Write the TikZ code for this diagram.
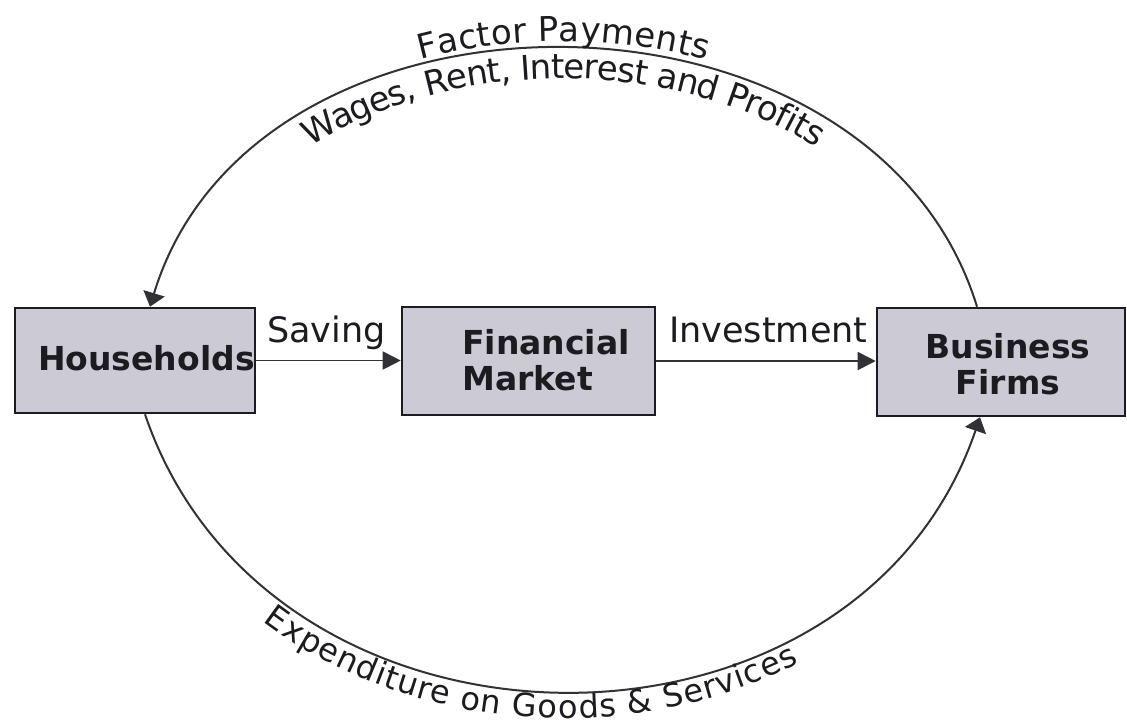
\documentclass[tikz,border=0pt]{standalone}
\usepackage{fontspec}
\setmainfont{DejaVu Sans}
\usetikzlibrary{arrows.meta,decorations.text}
\definecolor{boxfill}{RGB}{204,202,212}
\definecolor{ink}{RGB}{28,28,32}
\definecolor{wire}{RGB}{50,50,54}

\begin{document}
\begin{tikzpicture}[x=1pt,y=-1pt,
  sector/.style={draw=ink, line width=2.6pt, fill=boxfill, inner sep=0pt},
  boxtext/.style={font=\fontsize{33}{36}\selectfont\bfseries, text=ink, inner sep=0pt},
  flowlabel/.style={font=\fontsize{35}{35}\selectfont, text=ink, inner sep=0pt},
  flow/.style={draw=wire, line width=2pt, -{Triangle[length=14pt,width=22pt]}},
  link/.style={draw=wire, line width=1.8pt, -{Triangle[length=18pt,width=18pt]}}
]
\useasboundingbox (0,0) rectangle (1127,724);
\fill[white] (0,0) rectangle (1127,724);

% the three sectors
\node[sector, minimum width=240pt, minimum height=105pt] (hh) at (135,360.5) {};
\node[sector, minimum width=253pt, minimum height=108pt] (fm) at (528.5,361) {};
\node[sector, minimum width=248pt, minimum height=108pt] (bf) at (1001,362) {};

\node[boxtext, anchor=base west] (hhlabel) at (38,370) {Households};
\node[boxtext, anchor=north west, align=left] (fmlabel) at (462,329) {Financial\\Market};
\node[boxtext, anchor=north, align=center] (bflabel) at (1008,333) {Business\\Firms};

% saving and investment flows
\draw[link] (hh.east) -- (hh.east -| fm.west);
\draw[link] (fm.east) -- (fm.east -| bf.west);
\node[flowlabel, anchor=base west] (saving) at (267,342) {Saving};
\node[flowlabel, anchor=base west] (invest) at (669,342) {Investment};

% outer circular flows
\draw[flow] ([xshift=-24pt]bf.north) .. controls (872,-36) and (255,-39) .. ([xshift=15pt]hh.north);
\draw[flow] ([xshift=10pt]hh.south) .. controls (270,782) and (855,784) .. ([xshift=-21pt]bf.south);

% labels following the curves
\path[decorate, decoration={text along path, text align=center, raise=7pt, text color=ink,
  text={|\fontsize{34}{34}\selectfont|Factor Payments}}]
  ([xshift=15pt]hh.north) .. controls (255,-39) and (872,-36) .. ([xshift=-24pt]bf.north);
\path[decorate, decoration={text along path, text align=center, raise=-30pt, text color=ink,
  text={|\fontsize{34}{34}\selectfont|Wages, Rent, Interest and Profits}}]
  ([xshift=15pt]hh.north) .. controls (255,-39) and (872,-36) .. ([xshift=-24pt]bf.north);
\path[decorate, decoration={text along path, text align={center, right indent=70pt}, raise=-27pt, text color=ink,
  text={|\fontsize{32}{32}\selectfont|Expenditure on Goods {\&} Services}}]
  ([xshift=10pt]hh.south) .. controls (270,782) and (855,784) .. ([xshift=-21pt]bf.south);
\end{tikzpicture}
\end{document}
